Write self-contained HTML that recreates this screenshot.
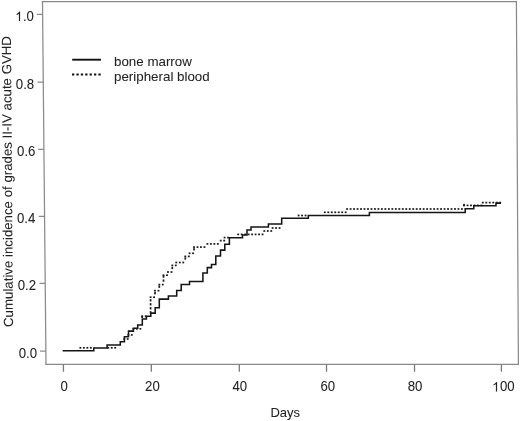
<!DOCTYPE html>
<html><head><meta charset="utf-8"><style>
html,body{margin:0;padding:0;background:#fff;width:520px;height:421px;overflow:hidden;}
svg{display:block;filter:grayscale(1);font-family:"Liberation Sans",sans-serif;}
</style></head><body><svg width="520" height="421" viewBox="0 0 520 421"><path d="M42.50 1.50 L516.40 1.50 M46.00 364.40 L518.40 364.40" fill="none" stroke="#8a8a8a" stroke-width="1.25" stroke-linecap="square"/><path d="M42.50 1.50 L46.00 364.40 M516.40 1.50 L518.40 364.40" fill="none" stroke="#8a8a8a" stroke-width="1.25" stroke-linecap="square"/><path d="M36.82 14.40 H42.62 M37.48 82.00 H43.28 M38.13 149.40 H43.93 M38.77 216.40 H44.57 M39.42 283.40 H45.22 M40.07 351.00 H45.87 " fill="none" stroke="#8a8a8a" stroke-width="1.25"/><path d="M63.40 364.4 L63.47 371.8 M151.30 364.4 L151.36 371.8 M239.30 364.4 L239.36 371.8 M326.50 364.4 L326.55 371.8 M414.50 364.4 L414.55 371.8 M501.40 364.4 L501.44 371.8 " fill="none" stroke="#7a7a7a" stroke-width="1.3"/><path d="M62.6 350.8 H93.8 V347.9 H107.1 V345.0 H120.3 V341.7 H124.4 V336.8 H128.5 V331.1 H133.4 V328.2 H137.7 V324.9 H142.3 V318.9 H146.4 V316.3 H150.8 V313.1 H155.2 V307.7 H159.3 V299.1 H168.4 V296.0 H176.7 V290.4 H181.2 V284.4 H189.5 V281.4 H202.9 V272.9 H207.3 V267.6 H211.5 V264.4 H215.8 V255.9 H220.5 V250.1 H224.8 V244.3 H229.4 V237.8 H242.5 V234.9 H247.0 V230.0 H251.0 V226.9 H268.4 V224.0 H281.7 V218.2 H308.3 V215.5 H369.4 V212.4 H465.2 V208.8 H473.8 V205.8 H496.0 V203.1 H501.0" fill="none" stroke="#151515" stroke-width="1.55" stroke-linejoin="miter"/><g fill="#1a1a1a"><rect x="79.48" y="346.95" width="1.85" height="1.70"/><rect x="82.96" y="346.95" width="1.85" height="1.70"/><rect x="86.44" y="346.95" width="1.85" height="1.70"/><rect x="89.92" y="346.95" width="1.85" height="1.70"/><rect x="107.32" y="346.95" width="1.85" height="1.70"/><rect x="110.80" y="346.95" width="1.85" height="1.70"/><rect x="114.28" y="346.95" width="1.85" height="1.70"/><rect x="123.28" y="338.15" width="1.85" height="1.70"/><rect x="126.76" y="338.15" width="1.85" height="1.70"/><rect x="127.38" y="334.05" width="1.85" height="1.70"/><rect x="130.85" y="334.05" width="1.85" height="1.70"/><rect x="132.47" y="327.95" width="1.85" height="1.70"/><rect x="135.95" y="327.95" width="1.85" height="1.70"/><rect x="139.44" y="327.95" width="1.85" height="1.70"/><rect x="141.35" y="315.65" width="1.70" height="2.30"/><rect x="141.27" y="315.45" width="1.85" height="1.70"/><rect x="144.75" y="315.45" width="1.85" height="1.70"/><rect x="149.75" y="311.15" width="1.70" height="2.30"/><rect x="149.75" y="307.15" width="1.70" height="2.30"/><rect x="149.75" y="303.15" width="1.70" height="2.30"/><rect x="149.75" y="299.15" width="1.70" height="2.30"/><rect x="149.67" y="296.35" width="1.85" height="1.70"/><rect x="153.15" y="296.35" width="1.85" height="1.70"/><rect x="154.15" y="292.05" width="1.70" height="2.30"/><rect x="154.07" y="289.85" width="1.85" height="1.70"/><rect x="157.55" y="289.85" width="1.85" height="1.70"/><rect x="158.45" y="285.55" width="1.70" height="2.30"/><rect x="158.38" y="283.75" width="1.85" height="1.70"/><rect x="161.85" y="283.75" width="1.85" height="1.70"/><rect x="162.65" y="279.45" width="1.70" height="2.30"/><rect x="162.65" y="275.45" width="1.70" height="2.30"/><rect x="162.57" y="274.35" width="1.85" height="1.70"/><rect x="166.05" y="274.35" width="1.85" height="1.70"/><rect x="167.07" y="271.15" width="1.85" height="1.70"/><rect x="170.55" y="271.15" width="1.85" height="1.70"/><rect x="171.45" y="266.85" width="1.70" height="2.30"/><rect x="171.38" y="264.55" width="1.85" height="1.70"/><rect x="174.85" y="264.55" width="1.85" height="1.70"/><rect x="175.38" y="261.65" width="1.85" height="1.70"/><rect x="178.85" y="261.65" width="1.85" height="1.70"/><rect x="182.34" y="261.65" width="1.85" height="1.70"/><rect x="184.45" y="257.35" width="1.70" height="2.30"/><rect x="184.38" y="255.55" width="1.85" height="1.70"/><rect x="187.85" y="255.55" width="1.85" height="1.70"/><rect x="188.67" y="252.45" width="1.85" height="1.70"/><rect x="192.15" y="252.45" width="1.85" height="1.70"/><rect x="193.15" y="248.15" width="1.70" height="2.30"/><rect x="193.07" y="246.25" width="1.85" height="1.70"/><rect x="196.55" y="246.25" width="1.85" height="1.70"/><rect x="200.03" y="246.25" width="1.85" height="1.70"/><rect x="203.51" y="246.25" width="1.85" height="1.70"/><rect x="206.47" y="243.05" width="1.85" height="1.70"/><rect x="209.95" y="243.05" width="1.85" height="1.70"/><rect x="213.44" y="243.05" width="1.85" height="1.70"/><rect x="216.91" y="243.05" width="1.85" height="1.70"/><rect x="219.77" y="239.75" width="1.85" height="1.70"/><rect x="223.25" y="239.75" width="1.85" height="1.70"/><rect x="223.67" y="236.75" width="1.85" height="1.70"/><rect x="227.15" y="236.75" width="1.85" height="1.70"/><rect x="237.27" y="233.55" width="1.85" height="1.70"/><rect x="240.75" y="233.55" width="1.85" height="1.70"/><rect x="244.23" y="233.55" width="1.85" height="1.70"/><rect x="247.71" y="233.55" width="1.85" height="1.70"/><rect x="251.19" y="233.55" width="1.85" height="1.70"/><rect x="254.67" y="233.55" width="1.85" height="1.70"/><rect x="258.15" y="233.55" width="1.85" height="1.70"/><rect x="261.63" y="233.55" width="1.85" height="1.70"/><rect x="263.38" y="230.15" width="1.85" height="1.70"/><rect x="266.86" y="230.15" width="1.85" height="1.70"/><rect x="270.33" y="230.15" width="1.85" height="1.70"/><rect x="271.68" y="227.15" width="1.85" height="1.70"/><rect x="275.16" y="227.15" width="1.85" height="1.70"/><rect x="278.63" y="227.15" width="1.85" height="1.70"/><rect x="297.68" y="214.65" width="1.85" height="1.70"/><rect x="301.16" y="214.65" width="1.85" height="1.70"/><rect x="304.63" y="214.65" width="1.85" height="1.70"/><rect x="323.88" y="211.45" width="1.85" height="1.70"/><rect x="327.36" y="211.45" width="1.85" height="1.70"/><rect x="330.83" y="211.45" width="1.85" height="1.70"/><rect x="334.31" y="211.45" width="1.85" height="1.70"/><rect x="337.80" y="211.45" width="1.85" height="1.70"/><rect x="341.27" y="211.45" width="1.85" height="1.70"/><rect x="344.75" y="211.45" width="1.85" height="1.70"/><rect x="346.18" y="208.15" width="1.85" height="1.70"/><rect x="349.66" y="208.15" width="1.85" height="1.70"/><rect x="353.13" y="208.15" width="1.85" height="1.70"/><rect x="356.62" y="208.15" width="1.85" height="1.70"/><rect x="360.10" y="208.15" width="1.85" height="1.70"/><rect x="363.57" y="208.15" width="1.85" height="1.70"/><rect x="367.06" y="208.15" width="1.85" height="1.70"/><rect x="370.54" y="208.15" width="1.85" height="1.70"/><rect x="374.01" y="208.15" width="1.85" height="1.70"/><rect x="377.50" y="208.15" width="1.85" height="1.70"/><rect x="380.98" y="208.15" width="1.85" height="1.70"/><rect x="384.45" y="208.15" width="1.85" height="1.70"/><rect x="387.94" y="208.15" width="1.85" height="1.70"/><rect x="391.42" y="208.15" width="1.85" height="1.70"/><rect x="394.90" y="208.15" width="1.85" height="1.70"/><rect x="398.38" y="208.15" width="1.85" height="1.70"/><rect x="401.86" y="208.15" width="1.85" height="1.70"/><rect x="405.33" y="208.15" width="1.85" height="1.70"/><rect x="408.81" y="208.15" width="1.85" height="1.70"/><rect x="412.30" y="208.15" width="1.85" height="1.70"/><rect x="415.78" y="208.15" width="1.85" height="1.70"/><rect x="419.25" y="208.15" width="1.85" height="1.70"/><rect x="422.74" y="208.15" width="1.85" height="1.70"/><rect x="426.22" y="208.15" width="1.85" height="1.70"/><rect x="429.69" y="208.15" width="1.85" height="1.70"/><rect x="433.18" y="208.15" width="1.85" height="1.70"/><rect x="436.66" y="208.15" width="1.85" height="1.70"/><rect x="440.13" y="208.15" width="1.85" height="1.70"/><rect x="443.62" y="208.15" width="1.85" height="1.70"/><rect x="447.10" y="208.15" width="1.85" height="1.70"/><rect x="450.57" y="208.15" width="1.85" height="1.70"/><rect x="454.06" y="208.15" width="1.85" height="1.70"/><rect x="457.54" y="208.15" width="1.85" height="1.70"/><rect x="461.02" y="208.15" width="1.85" height="1.70"/><rect x="463.15" y="203.85" width="1.70" height="2.30"/><rect x="463.07" y="204.55" width="1.85" height="1.70"/><rect x="466.56" y="204.55" width="1.85" height="1.70"/><rect x="470.03" y="204.55" width="1.85" height="1.70"/><rect x="473.51" y="204.55" width="1.85" height="1.70"/><rect x="477.00" y="204.55" width="1.85" height="1.70"/><rect x="480.47" y="204.55" width="1.85" height="1.70"/><rect x="481.88" y="201.75" width="1.85" height="1.70"/><rect x="485.36" y="201.75" width="1.85" height="1.70"/><rect x="488.83" y="201.75" width="1.85" height="1.70"/><rect x="492.31" y="201.75" width="1.85" height="1.70"/><rect x="495.80" y="201.75" width="1.85" height="1.70"/><rect x="499.27" y="201.75" width="1.85" height="1.70"/></g><path d="M72.2 59.7 H101" stroke="#111" stroke-width="1.9"/><path d="M72.0 74.5 H101.2" stroke="#111" stroke-width="2" stroke-dasharray="2.3 2.1"/><g font-family="Liberation Sans, sans-serif" font-size="13" fill="#222" stroke="#222" stroke-width="0.05"><g transform="translate(0,21.10) scale(1,1.050) translate(0,-21.10)"><path d="M763 0H583V1100Q518 1040 412 980T223 893V1060Q374 1128 487 1225T647 1409H763Z" stroke-width="7.8" transform="translate(15.16,21.10) scale(0.00645,-0.00645)"/><text x="22.89" y="21.10" font-size="13.20">.</text><text x="26.56" y="21.10" font-size="13.20">0</text></g><g transform="translate(0,89.00) scale(1,1.050) translate(0,-89.00)"><text x="15.85" y="89.00" font-size="13.20">0</text><text x="23.19" y="89.00" font-size="13.20">.</text><text x="26.86" y="89.00" font-size="13.20">8</text></g><g transform="translate(0,156.30) scale(1,1.050) translate(0,-156.30)"><text x="17.05" y="156.30" font-size="13.20">0</text><text x="24.39" y="156.30" font-size="13.20">.</text><text x="28.06" y="156.30" font-size="13.20">6</text></g><g transform="translate(0,223.50) scale(1,1.050) translate(0,-223.50)"><text x="16.95" y="223.50" font-size="13.20">0</text><text x="24.29" y="223.50" font-size="13.20">.</text><text x="27.96" y="223.50" font-size="13.20">4</text></g><g transform="translate(0,290.10) scale(1,1.050) translate(0,-290.10)"><text x="17.65" y="290.10" font-size="13.20">0</text><text x="24.99" y="290.10" font-size="13.20">.</text><text x="28.66" y="290.10" font-size="13.20">2</text></g><g transform="translate(0,357.80) scale(1,1.050) translate(0,-357.80)"><text x="18.65" y="357.80" font-size="13.20">0</text><text x="25.99" y="357.80" font-size="13.20">.</text><text x="29.66" y="357.80" font-size="13.20">0</text></g><g transform="translate(0,391.50) scale(1,1.050) translate(0,-391.50)"><text x="60.63" y="391.50" font-size="13.20">0</text></g><g transform="translate(0,391.50) scale(1,1.050) translate(0,-391.50)"><text x="145.06" y="391.50" font-size="13.20">2</text><text x="152.40" y="391.50" font-size="13.20">0</text></g><g transform="translate(0,391.50) scale(1,1.050) translate(0,-391.50)"><text x="232.46" y="391.50" font-size="13.20">4</text><text x="239.80" y="391.50" font-size="13.20">0</text></g><g transform="translate(0,391.50) scale(1,1.050) translate(0,-391.50)"><text x="320.46" y="391.50" font-size="13.20">6</text><text x="327.80" y="391.50" font-size="13.20">0</text></g><g transform="translate(0,391.50) scale(1,1.050) translate(0,-391.50)"><text x="407.76" y="391.50" font-size="13.20">8</text><text x="415.10" y="391.50" font-size="13.20">0</text></g><g transform="translate(0,391.50) scale(1,1.050) translate(0,-391.50)"><path d="M763 0H583V1100Q518 1040 412 980T223 893V1060Q374 1128 487 1225T647 1409H763Z" stroke-width="7.8" transform="translate(492.16,391.50) scale(0.00645,-0.00645)"/><text x="499.93" y="391.50" font-size="13.20">0</text><text x="507.27" y="391.50" font-size="13.20">0</text></g><text x="285.3" y="417.1" text-anchor="middle" font-size="13">Days</text><text x="114.0" y="66.2" font-size="13.35">bone marrow</text><text x="114.0" y="80.7" font-size="13.35">peripheral blood</text><g transform="matrix(1,0,0.00700,1,-2.551,0)"><text transform="translate(13.25,181.5) rotate(-90)" text-anchor="middle" font-size="13.25">Cumulative incidence of grades II-IV acute GVHD</text></g></g></svg></body></html>
